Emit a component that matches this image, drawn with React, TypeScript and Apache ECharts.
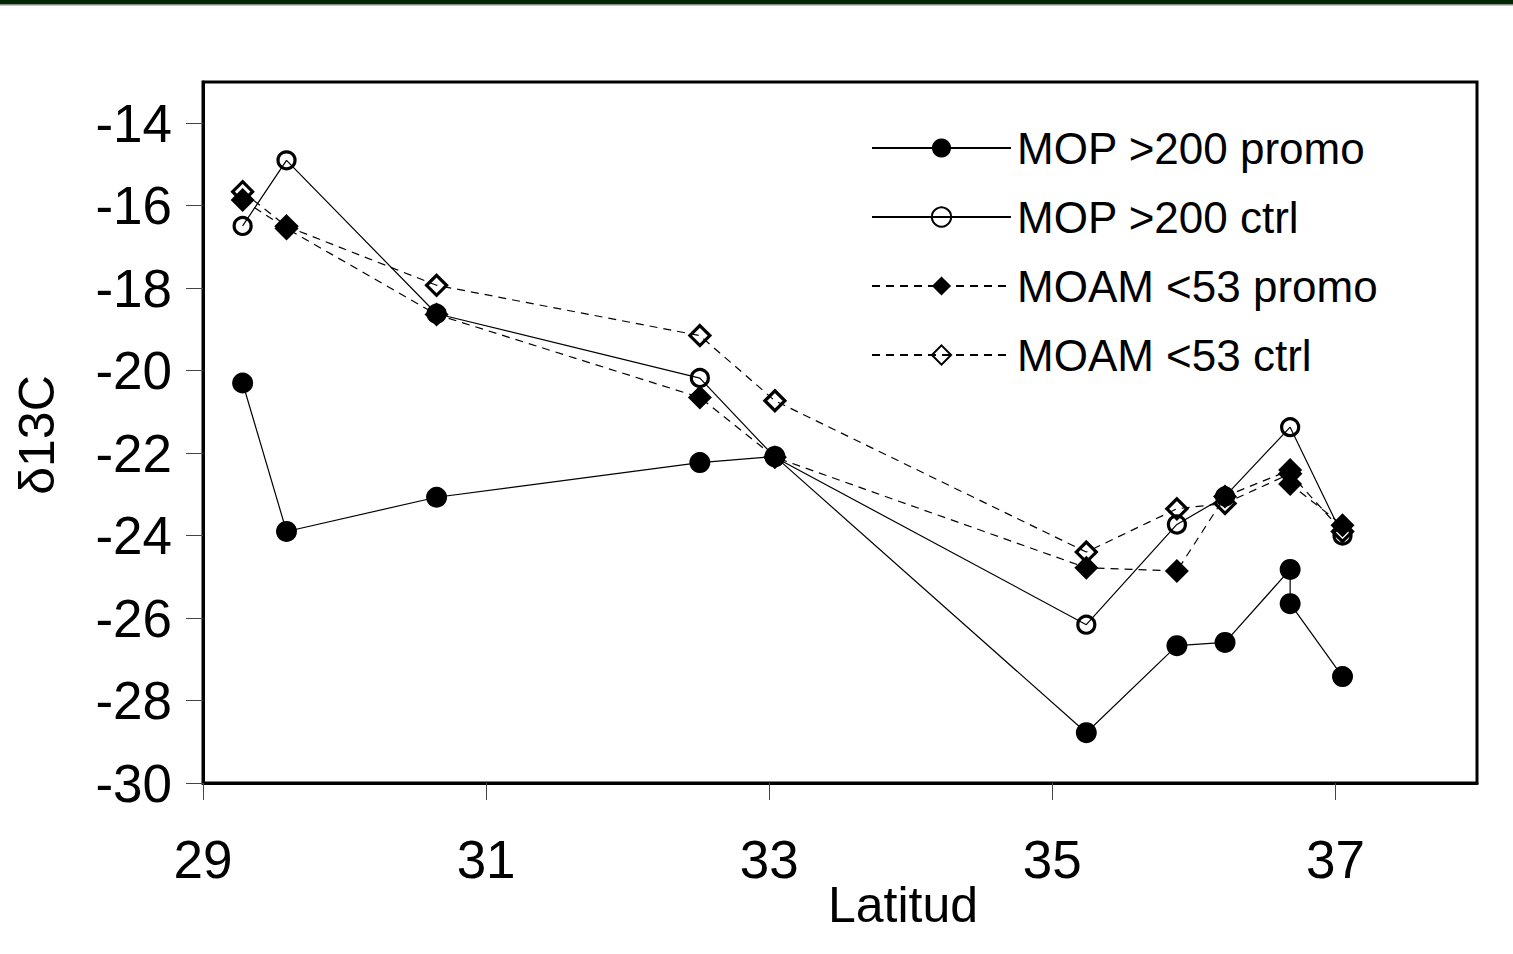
import React, { useEffect, useRef } from "react";
import * as echarts from "echarts";

const SERIES_NAMES = ["MOP >200 promo", "MOP >200 ctrl", "MOAM <53 promo", "MOAM <53 ctrl"];

const mopPromoLat = [29.28, 29.59, 30.65, 32.51, 33.04, 35.24, 35.88, 36.22, 36.68, 36.68, 37.05];
const mopPromoVal = [-20.3, -23.9, -23.07, -22.23, -22.08, -28.78, -26.67, -26.59, -24.82, -25.65, -27.42];

const mopCtrlLat = [29.28, 29.59, 30.65, 32.51, 33.04, 35.24, 35.88, 36.22, 36.68, 37.05];
const mopCtrlVal = [-16.49, -14.9, -18.62, -20.18, -22.1, -26.16, -23.73, -23.05, -21.37, -24.0];

const moamPromoLat = [29.28, 29.59, 30.65, 32.51, 33.04, 35.24, 35.88, 36.22, 36.68, 36.68, 37.05];
const moamPromoVal = [-15.86, -16.55, -18.64, -20.65, -22.1, -24.78, -24.86, -23.05, -22.41, -22.75, -23.75];

const moamCtrlLat = [29.28, 29.59, 30.65, 32.51, 33.04, 35.24, 35.88, 36.22, 36.68, 37.05];
const moamCtrlVal = [-15.66, -16.5, -17.93, -19.15, -20.73, -24.4, -23.35, -23.22, -22.5, -23.9];

const xTicks = [29, 31, 33, 35, 37];
const yTicks = [-30, -28, -26, -24, -22, -20, -18, -16, -14];

const FONT = "'Liberation Sans', Arial, sans-serif";

function pairs(xs: number[], ys: number[]) {
  return xs.map((x, i) => [x, ys[i]]);
}

export default function App() {
  const ref = useRef<HTMLDivElement>(null);
  useEffect(() => {
    if (!ref.current) return;
    const chart = echarts.init(ref.current, null, { renderer: "svg" });
    const solid = { color: "#000", width: 1.2, type: "solid" as const };
    const dashed = { color: "#000", width: 1.2, type: [8, 6] as any };
    chart.setOption({
      animation: false,
      backgroundColor: "#fff",
      grid: {
        left: 203,
        top: 82,
        right: 36,
        bottom: 171,
        show: true,
        borderColor: "#000",
        borderWidth: 3,
        containLabel: false,
      },
      legend: {
        left: 866,
        top: 121,
        orient: "vertical",
        itemWidth: 139,
        itemHeight: 24,
        itemGap: 25,
        textStyle: { fontSize: 44, color: "#000", fontFamily: FONT, lineHeight: 44, padding: [0, 0, 0, 1] },
        data: SERIES_NAMES,
      },
      xAxis: {
        type: "value",
        min: 29,
        max: 38,
        interval: 2,
        splitLine: { show: false },
        axisLine: { show: true, onZero: false, lineStyle: { color: "#000", width: 3 } },
        axisTick: { show: true, length: 17, lineStyle: { color: "#444", width: 1 }, customValues: xTicks },
        axisLabel: {
          fontSize: 53,
          color: "#000",
          fontFamily: FONT,
          margin: 50,
          customValues: xTicks,
        },
      },
      yAxis: {
        type: "value",
        min: -30,
        max: -13,
        interval: 2,
        splitLine: { show: false },
        axisLine: { show: true, onZero: false, lineStyle: { color: "#000", width: 3 } },
        axisTick: { show: true, length: 17, lineStyle: { color: "#444", width: 1 }, customValues: yTicks },
        axisLabel: {
          fontSize: 53,
          color: "#000",
          fontFamily: FONT,
          margin: 31,
          customValues: yTicks,
        },
      },
      graphic: [
        { type: "rect", left: 0, top: 0, shape: { width: 1513, height: 4 }, style: { fill: "#012801" } },
        { type: "rect", left: 0, top: 4, shape: { width: 1513, height: 1.5 }, style: { fill: "#8a8a8a" } },
        {
          type: "text",
          x: 903,
          y: 905,
          style: { text: "Latitud", fontSize: 50, fill: "#000", fontFamily: FONT, textAlign: "center", textVerticalAlign: "middle" },
        },
        {
          type: "text",
          x: 37,
          y: 435,
          rotation: Math.PI / 2,
          style: { text: "δ13C", fontSize: 50, fill: "#000", fontFamily: FONT, textAlign: "center", textVerticalAlign: "middle" },
        },
      ],
      series: [
        {
          name: SERIES_NAMES[0],
          type: "line",
          z: 6,
          data: pairs(mopPromoLat, mopPromoVal),
          symbol: "circle",
          symbolSize: 21,
          itemStyle: { color: "#000", borderColor: "#000", borderWidth: 0 },
          lineStyle: solid,
        },
        {
          name: SERIES_NAMES[1],
          type: "line",
          z: 5,
          data: pairs(mopCtrlLat, mopCtrlVal),
          symbol: "circle",
          symbolSize: 17,
          itemStyle: { color: "rgba(255,255,255,0)", borderColor: "#000", borderWidth: 3.2 },
          lineStyle: solid,
        },
        {
          name: SERIES_NAMES[2],
          type: "line",
          z: 4,
          data: pairs(moamPromoLat, moamPromoVal),
          symbol: "diamond",
          symbolSize: 24,
          itemStyle: { color: "#000", borderColor: "#000", borderWidth: 0 },
          lineStyle: dashed,
        },
        {
          name: SERIES_NAMES[3],
          type: "line",
          z: 3,
          data: pairs(moamCtrlLat, moamCtrlVal),
          symbol: "diamond",
          symbolSize: 20,
          itemStyle: { color: "rgba(255,255,255,0)", borderColor: "#000", borderWidth: 3.2 },
          lineStyle: dashed,
        },
      ],
    });
    return () => chart.dispose();
  }, []);
  return (
    <div
      ref={ref}
      style={{ position: "fixed", left: 0, top: 0, width: 1513, height: 954, background: "#fff" }}
    />
  );
}
